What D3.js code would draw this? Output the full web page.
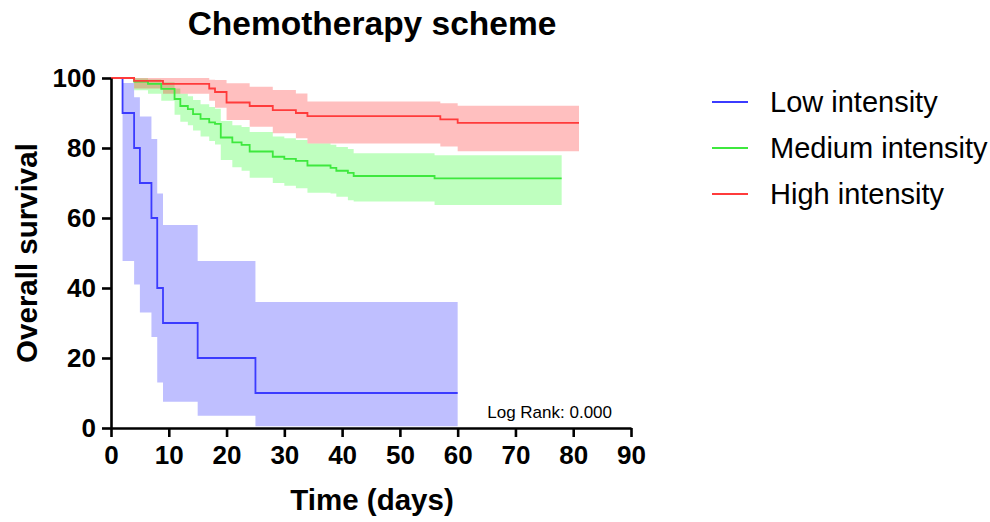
<!DOCTYPE html>
<html>
<head>
<meta charset="utf-8">
<script src="https://cdn.jsdelivr.net/npm/d3@7"></script>
<style>
  body { margin: 0; background: #fff; }
  svg text { font-family: Arial, "Liberation Sans", sans-serif; }
</style>
</head>
<body>
<svg id="chart" width="990" height="522"></svg>
<script>
// Kaplan-Meier steps, last entry = end of follow-up
var lowTimes  = [0, 2, 4, 5, 7, 8, 9, 15, 25, 60];
var lowSurv   = [100, 90, 80, 70, 60, 40, 30, 20, 10, 10];
var lowLower  = [100, 47.7, 41, 33, 26, 13, 7.5, 3.5, 0.5, 0.5];
var lowUpper  = [100, 98.6, 94.5, 89, 82.6, 67, 58, 47.7, 36, 36];

var medTimes  = [0, 4, 6.4, 8.7, 11, 12, 13.3, 14.2, 15.5, 17, 18, 19, 21, 22.6, 24, 28, 30, 32, 34, 38, 39, 41, 42, 56, 78];
var medSurv   = [100, 99, 98.3, 96.9, 94, 92, 91.1, 89.7, 88.3, 87.3, 86.9, 83, 81.6, 80.9, 79, 77.5, 76.9, 76.3, 75, 74.3, 73.5, 72.9, 72, 71.3, 71.3];
var medLower  = [100, 96.5, 95.5, 93.5, 89.5, 87.5, 86.5, 85, 83.3, 82, 81, 76.6, 74.5, 73.5, 71.5, 70, 69.2, 68.5, 67.2, 67, 66.1, 65.1, 64.7, 63.7, 63.7];
var medUpper  = [100, 99.9, 99.6, 98.8, 97, 95.5, 94.8, 93.7, 92.5, 91.7, 91.2, 87.7, 86.5, 86, 84.6, 83.3, 82.8, 82.3, 81.3, 80.9, 80.3, 79.7, 78.5, 77.9, 77.9];

var highTimes = [0, 4, 9, 17, 18, 20, 24, 28, 32, 34, 57, 60, 81];
var highSurv  = [100, 99.2, 98.3, 97, 96, 93, 92, 90.8, 90, 89.1, 88.2, 87.2, 87.2];
var highLower = [100, 97, 95.5, 93.5, 91.5, 88, 86.1, 84.2, 82.8, 81.3, 80.4, 79.1, 79.1];
var highUpper = [100, 100, 100, 99.5, 99.4, 98.5, 97.5, 96.6, 95.6, 93.3, 92.8, 92.1, 92.1];

var groupNames = ["Low intensity", "Medium intensity", "High intensity"];
var xTicks = [0, 10, 20, 30, 40, 50, 60, 70, 80, 90];
var yTicks = [0, 20, 40, 60, 80, 100];

var svg = d3.select("#chart");

var x = d3.scaleLinear().domain([0, 90]).range([111, 631]);
var y = d3.scaleLinear().domain([0, 100]).range([428, 78]);

function rows(t, s, lo, hi) {
    return t.map(function(d, i) { return {t: d, s: s[i], lo: lo[i], hi: hi[i]}; });
}

var groups = [
    {name: groupNames[0], data: rows(lowTimes, lowSurv, lowLower, lowUpper), line: "#3b3bff", fill: "#0000ff"},
    {name: groupNames[1], data: rows(medTimes, medSurv, medLower, medUpper), line: "#3ee83e", fill: "#00ff00"},
    {name: groupNames[2], data: rows(highTimes, highSurv, highLower, highUpper), line: "#ff3b3b", fill: "#ff0000"}
];

var band = d3.area()
    .x(function(d) { return x(d.t); })
    .y0(function(d) { return y(d.lo); })
    .y1(function(d) { return y(d.hi); })
    .curve(d3.curveStepAfter);

var line = d3.line()
    .x(function(d) { return x(d.t); })
    .y(function(d) { return y(d.s); })
    .curve(d3.curveStepAfter);

// confidence bands first
groups.forEach(function(g) {
    svg.append("path")
        .attr("d", band(g.data))
        .attr("fill", g.fill)
        .attr("fill-opacity", 0.25);
});

groups.forEach(function(g) {
    svg.append("path")
        .attr("d", line(g.data))
        .attr("fill", "none")
        .attr("stroke", g.line)
        .attr("stroke-width", 1.8);
});

/***** axes *****/
var xAxis = svg.append("g")
    .attr("transform", "translate(0,428)")
    .call(d3.axisBottom(x).tickValues(xTicks).tickSize(9).tickSizeOuter(0).tickPadding(9));

var yAxis = svg.append("g")
    .attr("transform", "translate(111,0)")
    .call(d3.axisLeft(y).tickValues(yTicks).tickSize(9).tickSizeOuter(0).tickPadding(6));

[xAxis, yAxis].forEach(function(a) {
    a.select(".domain").attr("stroke", "#000").attr("stroke-width", 2.6);
    a.selectAll(".tick line").attr("stroke", "#000").attr("stroke-width", 2.6);
    a.selectAll(".tick text")
        .attr("fill", "#000")
        .style("font-size", "26px")
        .style("font-weight", "bold")
        .style("font-family", "Arial, 'Liberation Sans', sans-serif");
});

/***** labels *****/
svg.append("text")
    .attr("x", 372).attr("y", 35)
    .attr("text-anchor", "middle")
    .style("font-size", "33.5px").style("font-weight", "bold")
    .text("Chemotherapy scheme");

svg.append("text")
    .attr("transform", "translate(37,253) rotate(-90)")
    .attr("text-anchor", "middle")
    .style("font-size", "29.5px").style("font-weight", "bold")
    .text("Overall survival");

svg.append("text")
    .attr("x", 372).attr("y", 510)
    .attr("text-anchor", "middle")
    .style("font-size", "29.5px").style("font-weight", "bold")
    .text("Time (days)");

svg.append("text")
    .attr("x", 612).attr("y", 418)
    .attr("text-anchor", "end")
    .style("font-size", "17px")
    .text("Log Rank: 0.000");

/***** legend *****/
var legend = svg.selectAll(".leg").data(groups).enter().append("g")
    .attr("class", "leg")
    .attr("transform", function(d, i) { return "translate(0," + (102 + i * 46) + ")"; });

legend.append("line")
    .attr("x1", 712).attr("x2", 748)
    .attr("stroke", function(d) { return d.line; })
    .attr("stroke-width", 1.8);

legend.append("text")
    .attr("x", 770).attr("dy", "0.35em")
    .style("font-size", "29px")
    .text(function(d) { return d.name; });
</script>
</body>
</html>
